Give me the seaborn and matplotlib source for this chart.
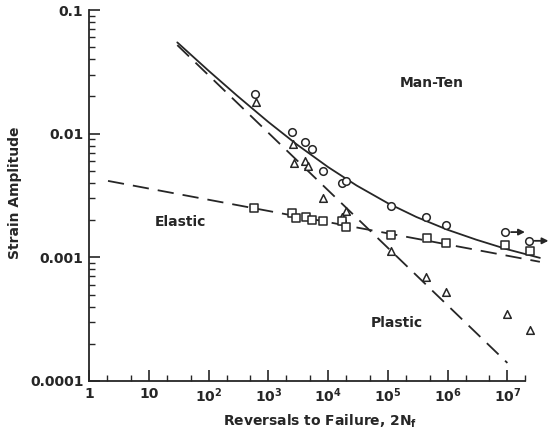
import numpy as np
import pandas as pd
import seaborn as sns
import matplotlib.pyplot as plt
from matplotlib.ticker import LogLocator, NullFormatter, FixedLocator

sns.set_style('ticks')
plt.rcParams['font.family'] = ['DejaVu Sans']
plt.rcParams['mathtext.default'] = 'regular'

ink = '#262626'

# total strain (circles), plastic (triangles), elastic (squares)
circle_n = [597, 2450, 4170, 5300, 8180, 16800, 20200, 115000, 440000, 933000, 9.3e6, 2.3e7]
circle_eps = [0.0209, 0.0104, 0.0085, 0.00745, 0.0050, 0.00397, 0.00411, 0.00259, 0.00213, 0.00183, 0.00160, 0.00136]
runout_n = [9.3e6, 2.3e7]
runout_eps = [0.00160, 0.00136]

tri_n = [613, 2550, 2680, 4090, 4590, 8180, 20200, 16800, 115000, 432000, 933000, 9.7e6, 2.37e7]
tri_eps = [0.0182, 0.0083, 0.0058, 0.0060, 0.0055, 0.0030, 0.00235, 0.00213, 0.00113, 0.00069, 0.00052, 0.00035, 0.00026]

sq_n = [580, 2480, 2900, 4250, 5300, 8300, 16800, 20000, 115000, 445000, 933000, 9.3e6, 2.37e7]
sq_eps = [0.00249, 0.00229, 0.00207, 0.00212, 0.00199, 0.00195, 0.00195, 0.00176, 0.00152, 0.00143, 0.00131, 0.00126, 0.00113]

# fitted lines
elastic_n = [2.08, 3.5e7]
elastic_eps = [0.00415, 0.00092]
plastic_n = [30, 1.0e7]
plastic_eps = [0.052, 0.00014]
total_n = [30, 100, 300, 1e3, 3e3, 1e4, 3e4, 1e5, 3e5, 1e6, 3e6, 1e7, 3.5e7]
total_eps = [0.0547, 0.0323, 0.0203, 0.01244, 0.00818, 0.00537, 0.00381, 0.00274, 0.00212, 0.00167, 0.00139, 0.00116, 0.00099]

fig = plt.figure(figsize=(5.54, 4.38), dpi=100)
ax = fig.add_axes([89 / 554, 57 / 438, 465 / 554, 371 / 438])

sns.lineplot(x=total_n, y=total_eps, ax=ax, color=ink, lw=1.3, clip_on=False)
sns.lineplot(x=elastic_n, y=elastic_eps, ax=ax, color=ink, lw=1.3, clip_on=False)
sns.lineplot(x=plastic_n, y=plastic_eps, ax=ax, color=ink, lw=1.3, clip_on=False)
for ln in ax.lines[1:]:
    ln.set_dashes((9, 5))

mk = dict(ax=ax, facecolor='white', edgecolor=ink, linewidth=1.1, s=30, clip_on=False, zorder=5)
sns.scatterplot(x=circle_n, y=circle_eps, marker='o', **mk)
sns.scatterplot(x=tri_n, y=tri_eps, marker='^', **mk)
sns.scatterplot(x=sq_n, y=sq_eps, marker='s', **mk)

for n, e in zip(runout_n, runout_eps):
    ax.annotate('', xy=(n, e), xytext=(14, 0), textcoords='offset points',
                arrowprops=dict(arrowstyle='<|-', color=ink, lw=1.3, shrinkA=0, shrinkB=4,
                                mutation_scale=9))

ax.set_xscale('log')
ax.set_yscale('log')
ax.set_xlim(1, 10 ** 7.78)
ax.set_ylim(1e-4, 1e-1)

sns.despine(ax=ax)
ax.spines['left'].set_bounds(1e-4, 1e-1)
ax.spines['bottom'].set_bounds(1, 2e7)
for s in ['left', 'bottom']:
    ax.spines[s].set_color(ink)
    ax.spines[s].set_linewidth(1.3)

ax.xaxis.set_major_locator(FixedLocator([10.0 ** k for k in range(8)]))
ax.xaxis.set_minor_locator(FixedLocator([m * 10.0 ** k for k in range(8) for m in (2, 5) if m * 10.0 ** k <= 2e7]))
ax.set_xticklabels(['1', '10'] + ['10$^{%d}$' % k for k in range(2, 8)])
ax.yaxis.set_major_locator(FixedLocator([1e-4, 1e-3, 1e-2, 1e-1]))
ax.yaxis.set_minor_locator(LogLocator(base=10, subs=np.arange(2, 10)))
ax.yaxis.set_minor_formatter(NullFormatter())
ax.set_yticklabels(['0.0001', '0.001', '0.01', '0.1'])

ax.tick_params(which='major', direction='in', length=8, width=1.2, color=ink,
               labelsize=10, labelcolor=ink, pad=4)
ax.tick_params(which='minor', direction='in', length=4, width=1.0, color=ink)
for lab in ax.get_xticklabels() + ax.get_yticklabels():
    lab.set_fontweight('bold')

ax.set_xlabel('Reversals to Failure, 2N$_f$', fontsize=10, fontweight='bold', color=ink)
ax.set_ylabel('Strain Amplitude', fontsize=10, fontweight='bold', color=ink)
ax.xaxis.set_label_coords((320 - 89) / 465, -(413 - 381) / 371)
ax.yaxis.set_label_coords(-(89 - 22) / 465, (381 - 193) / 371)

ax.text(10 ** ((432 - 89) / 59.8), 10 ** (-1 - (83 - 10) / 123.7), 'Man-Ten',
        ha='center', va='center', fontsize=10, fontweight='bold', color=ink)
ax.text(10 ** ((180 - 89) / 59.8), 10 ** (-1 - (222 - 10) / 123.7), 'Elastic',
        ha='center', va='center', fontsize=10, fontweight='bold', color=ink)
ax.text(10 ** ((397 - 89) / 59.8), 10 ** (-1 - (323 - 10) / 123.7), 'Plastic',
        ha='center', va='center', fontsize=10, fontweight='bold', color=ink)

fig.savefig('out.png', dpi=100)
